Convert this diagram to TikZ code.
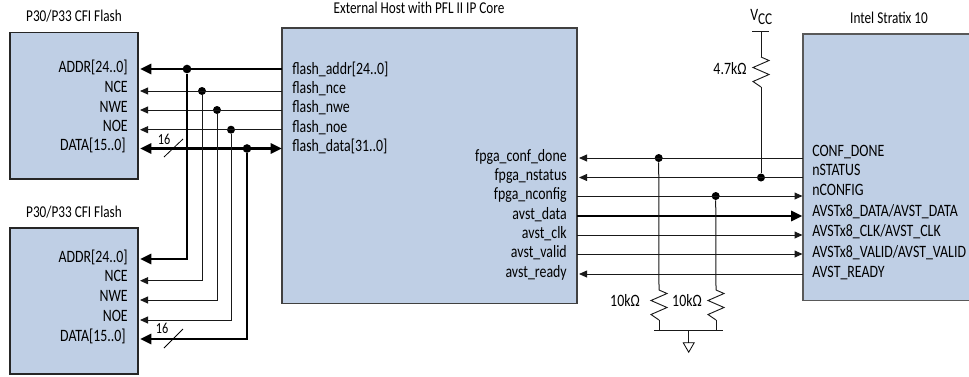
\documentclass[tikz,border=0pt]{standalone}
\usepackage{fontspec}
\setmainfont[FakeStretch=0.8]{Carlito}
\usetikzlibrary{arrows.meta}
\definecolor{boxblue}{HTML}{BFCFE5}
\tikzset{
  chip/.style={draw=#1,fill=boxblue,line width=.8pt},
  chip/.default={black!85},
  thinw/.style={line width=.75pt,draw=black!90},
  boldw/.style={line width=2.2pt,draw=black},
  thinl/.style={thinw,{Triangle[length=6pt,width=5.2pt]}-},
  thinr/.style={thinw,-{Triangle[length=6pt,width=5.2pt]}},
  boldl/.style={boldw,{Triangle[length=8.5pt,width=7.5pt]}-},
  boldb/.style={boldw,{Triangle[length=8.5pt,width=7.5pt]}-{Triangle[length=8.5pt,width=7.5pt]}},
  boldr/.style={boldw,-{Triangle[length=8.5pt,width=7.5pt]}},
  dotn/.style={circle,fill=black,inner sep=0pt,minimum size=6pt},
  txt/.style={inner sep=0pt,font=\fontsize{13pt}{15pt}\selectfont,text height=8.4pt,text depth=2pt},
  lab/.style={txt,anchor=west},
  rlab/.style={txt,anchor=east},
  ttl/.style={txt,font=\fontsize{12.4pt}{15pt}\selectfont},
  busn/.style={txt,font=\fontsize{11.5pt}{14pt}\selectfont},
  zig/.style={line width=.7pt,draw=black!90,line join=miter},
}
\begin{document}
\begin{tikzpicture}[x=0.75pt,y=-0.75pt]
\useasboundingbox (0,0) rectangle (969,376);
% chips
\path[chip] (10,32.5) rectangle (138,179);
\path[chip] (10,228) rectangle (138,374);
\path[chip=black!75] (282,28) rectangle (577,303.5);
\path[chip=black!65] (803,34) rectangle (972,300.5);
% titles
\node[ttl] (t1) at (74,17) {P30/P33 CFI Flash};
\node[ttl] (t2) at (74,213) {P30/P33 CFI Flash};
\node[ttl] (t3) at (419,9) {External Host with PFL II IP Core};
\node[ttl] (t4) at (889,19) {Intel Stratix 10};
% flash 1 pins
\node[rlab] (a1) at (128,68) {ADDR[24..0]};
\node[rlab] (a2) at (128,88.5) {NCE};
\node[rlab] (a3) at (128,108.5) {NWE};
\node[rlab] (a4) at (128,127.5) {NOE};
\node[rlab] (a5) at (126,146.5) {DATA[15..0]};
% flash 2 pins
\node[rlab] (b1) at (128,258) {ADDR[24..0]};
\node[rlab] (b2) at (128,277.5) {NCE};
\node[rlab] (b3) at (128,297.5) {NWE};
\node[rlab] (b4) at (128,317.5) {NOE};
\node[rlab] (b5) at (126,337.5) {DATA[15..0]};
% host left pins
\node[lab] (h1) at (292,70) {flash\_addr[24..0]};
\node[lab] (h2) at (292,89) {flash\_nce};
\node[lab] (h3) at (292,108.5) {flash\_nwe};
\node[lab] (h4) at (292,128) {flash\_noe};
\node[lab] (h5) at (292,147) {flash\_data[31..0]};
% host right pins
\node[rlab] (p1) at (567,157) {fpga\_conf\_done};
\node[rlab] (p2) at (567,176) {fpga\_nstatus};
\node[rlab] (p3) at (567,195) {fpga\_nconfig};
\node[rlab] (p4) at (567,215) {avst\_data};
\node[rlab] (p5) at (567,234) {avst\_clk};
\node[rlab] (p6) at (567,253) {avst\_valid};
\node[rlab] (p7) at (567,273) {avst\_ready};
% stratix pins
\node[lab] (s1) at (812,152) {CONF\_DONE};
\node[lab] (s2) at (812,171.5) {nSTATUS};
\node[lab] (s3) at (812,191) {nCONFIG};
\node[lab] (s4) at (812,212.5) {AVSTx8\_DATA/AVST\_DATA};
\node[lab] (s5) at (812,232.5) {AVSTx8\_CLK/AVST\_CLK};
\node[lab] (s6) at (812,253) {AVSTx8\_VALID/AVST\_VALID};
\node[lab] (s7) at (812,273) {AVST\_READY};
% junctions
\node[dotn,minimum size=6.5pt] (j1) at (187,69) {};
\node[dotn] (j2) at (202,91) {};
\node[dotn] (j3) at (217,110) {};
\node[dotn] (j4) at (231,129.7) {};
\node[dotn,minimum size=6.5pt] (j5) at (247,148.5) {};
\node[dotn] (j6) at (658.7,158) {};
\node[dotn] (j7) at (761,177.5) {};
\node[dotn] (j8) at (715.7,196) {};
% end coordinates, left group
\foreach \n/\yy in {1/69,2/91,3/110,4/129.7,5/148.5}{
  \coordinate (fa\n) at (140,\yy);
  \coordinate (ha\n) at (282,\yy);
}
\foreach \n/\yy in {1/259,2/280.7,3/300,4/320,5/339}{
  \coordinate (fb\n) at (140,\yy);
}
% right group
\foreach \n/\yy in {1/158,2/177.5,3/196,4/216,5/235,6/254,7/274}{
  \coordinate (hr\n) at (579,\yy);
  \coordinate (sr\n) at (802.5,\yy);
}
\coordinate (hl3) at (577,196);\coordinate (hl4) at (577,216);
\coordinate (hl5) at (577,235);\coordinate (hl6) at (577,254);
% flash 1 connectors
\draw[boldl] (fa1) -- (ha1);
\draw[thinl] (fa2) -- (ha2);
\draw[thinl] (fa3) -- (ha3);
\draw[thinl] (fa4) -- (ha4);
\draw[boldb] (fa5) -- (ha5);
% flash 2 connectors
\draw[boldl,line join=miter] (fb1) -| (j1);
\draw[thinl] (fb2) -| (j2);
\draw[thinl] (fb3) -| (j3);
\draw[thinl] (fb4) -| (j4);
\draw[boldl,line join=miter] (fb5) -| (j5);
% bus slashes
\coordinate (sl1a) at (164,157);\coordinate (sl1b) at (183,139);
\coordinate (sl2a) at (164,348);\coordinate (sl2b) at (183,329);
\draw[line width=.6pt] (sl1a) -- (sl1b);
\draw[line width=.6pt] (sl2a) -- (sl2b);
\node[busn] (n1) at (164,140) {16};
\node[busn] (n2) at (162,329) {16};
% right connectors
\draw[thinl] (hr1) -- (sr1);
\draw[thinl] (hr2) -- (sr2);
\draw[thinr] (hl3) -- (sr3);
\draw[boldr] (hl4) -- (sr4);
\draw[thinr] (hl5) -- (sr5);
\draw[thinr] (hl6) -- (sr6);
\draw[thinl] (hr7) -- (sr7);
% VCC
\node[txt,anchor=west] (vcc) at (750,16) {V\raisebox{-3pt}{\fontsize{12.4pt}{15pt}\selectfont CC}};
\coordinate (vbl) at (752,31.7);\coordinate (vbr) at (769,31.7);
\coordinate (vbm) at (761,31.7);
\coordinate (r0t) at (761,57);\coordinate (r0b) at (761,87);
\draw[thinw] (vbl) -- (vbr);
\draw[thinw] (vbm) -- (r0t);
\draw[zig] (r0t) -- ++(8,3.5) -- ++(-16,7) -- ++(16,7) -- ++(-16,7) -- (r0b);
\draw[thinw] (r0b) -- (j7);
\node[txt] (r0l) at (730,70) {4.7kΩ};
% pull-downs
\coordinate (r1t) at (659,290);\coordinate (r1b) at (659,320);
\coordinate (r2t) at (716,290);\coordinate (r2b) at (716,320);
\draw[thinw] (j6) -- (r1t);
\draw[thinw] (j8) -- (r2t);
\draw[zig] (r1t) -- ++(8,3.5) -- ++(-16,7) -- ++(16,7) -- ++(-16,7) -- (r1b);
\draw[zig] (r2t) -- ++(8,3.5) -- ++(-16,7) -- ++(16,7) -- ++(-16,7) -- (r2b);
\coordinate (gl) at (654,330.7);\coordinate (gr) at (723,330.7);
\coordinate (g1) at (659,330.7);\coordinate (g2) at (716,330.7);
\coordinate (gm) at (688.7,330.7);\coordinate (gt) at (688.7,342.7);
\draw[thinw] (gl) -- (gr);
\draw[thinw] (r1b) -- (g1);
\draw[thinw] (r2b) -- (g2);
\draw[thinw] (gm) -- (gt);
\draw[line width=.6pt,line join=miter] (gt) -- ++(-5.5,0) -- ++(5.5,9.5) -- ++(5.5,-9.5) -- cycle;
\node[txt] (r1l) at (625,302.6) {10kΩ};
\node[txt] (r2l) at (687,302.6) {10kΩ};
\end{tikzpicture}
\end{document}
